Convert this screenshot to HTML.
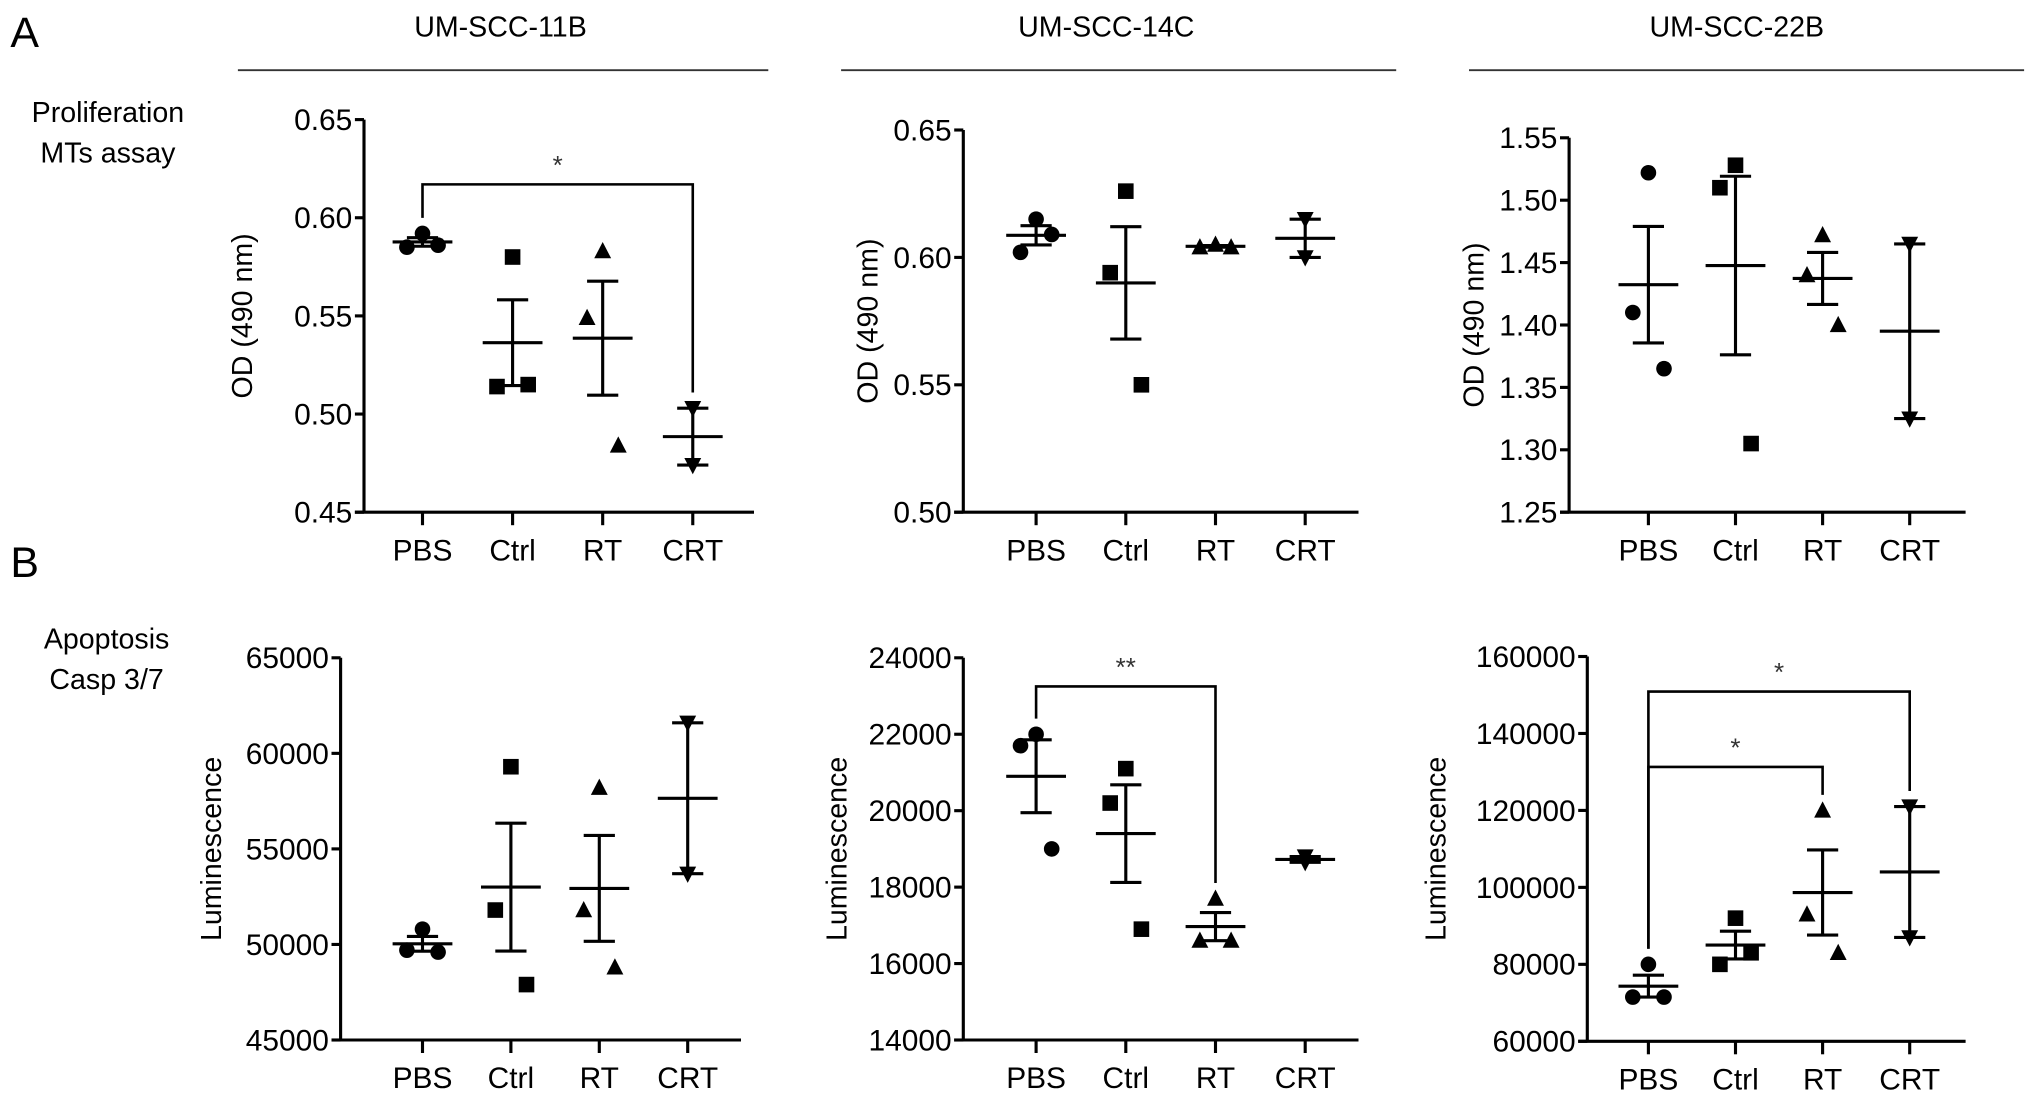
<!DOCTYPE html>
<html><head><meta charset="utf-8"><style>
html,body{margin:0;padding:0;background:#fff;}
svg{display:block;font-family:"Liberation Sans",Arial,sans-serif;}
</style></head><body>
<svg id="fig" width="2032" height="1099" viewBox="0 0 2032 1099" xmlns="http://www.w3.org/2000/svg">
<g id="root" transform="scale(1.3)">
<text x="8" y="36" font-size="33">A</text>
<text x="8" y="444" font-size="33">B</text>
<text x="83" y="94" font-size="22" text-anchor="middle">Proliferation</text>
<text x="83" y="125" font-size="22" text-anchor="middle">MTs assay</text>
<text x="82" y="499" font-size="22" text-anchor="middle">Apoptosis</text>
<text x="82" y="530" font-size="22" text-anchor="middle">Casp 3/7</text>
<text x="385" y="28" font-size="22" text-anchor="middle">UM-SCC-11B</text>
<text x="851" y="28" font-size="22" text-anchor="middle">UM-SCC-14C</text>
<text x="1336" y="28" font-size="22" text-anchor="middle">UM-SCC-22B</text>
<line x1="183" y1="54" x2="591" y2="54" stroke="#333" stroke-width="1.5"/>
<line x1="647" y1="54" x2="1074" y2="54" stroke="#333" stroke-width="1.5"/>
<line x1="1130" y1="54" x2="1557" y2="54" stroke="#333" stroke-width="1.5"/>
</g>
</svg>
<script>
const categories = ["PBS","Ctrl","RT","CRT"];
const a1Values = [[0.592,0.585,0.586],[0.580,0.514,0.515],[0.583,0.549,0.484],[0.503,0.474]];
const a2Values = [[0.615,0.602,0.609],[0.626,0.594,0.550],[0.605,0.604,0.604],[0.615,0.600]];
const a3Values = [[1.522,1.410,1.365],[1.528,1.510,1.305],[1.472,1.440,1.400],[1.465,1.325]];
const b1Values = [[50800,49700,49600],[59300,51800,47900],[58200,51800,48800],[61600,53700]];
const b2Values = [[22000,21700,19000],[21100,20200,16900],[17700,16600,16600],[18800,18650]];
const b3Values = [[80000,71500,71500],[92000,80000,83000],[120000,93000,83000],[121000,87000]];
const a1Ticks = [0.45,0.50,0.55,0.60,0.65];
const a2Ticks = [0.50,0.55,0.60,0.65];
const a3Ticks = [1.25,1.30,1.35,1.40,1.45,1.50,1.55];
const b1Ticks = [45000,50000,55000,60000,65000];
const b2Ticks = [14000,16000,18000,20000,22000,24000];
const b3Ticks = [60000,80000,100000,120000,140000,160000];
const a1Sig = [[0,3,0.617,"*"]];
const b2Sig = [[0,2,23250,"**"]];
const b3Sig = [[0,2,131300,"*"],[0,3,150900,"*"]];
const markers = ["circle","square","triangle","down"];

const NS="http://www.w3.org/2000/svg";
const root=document.getElementById('root');
function mk(tag,attrs,parent){const e=document.createElementNS(NS,tag);for(const k in attrs)e.setAttribute(k,attrs[k]);(parent||root).appendChild(e);return e;}

const panels=[
 {id:"a-11b",vals:a1Values,ticks:a1Ticks,dec:2,ax:280,top:92,bot:394,x0:325,step:69.3,xend:580,ylab:"OD (490 nm)",labx:194,sig:a1Sig},
 {id:"a-14c",vals:a2Values,ticks:a2Ticks,dec:2,ax:741,top:100,bot:394,x0:797,step:69,xend:1045,ylab:"OD (490 nm)",labx:675,sig:[]},
 {id:"a-22b",vals:a3Values,ticks:a3Ticks,dec:2,ax:1207,top:106,bot:394,x0:1268,step:67,xend:1512,ylab:"OD (490 nm)",labx:1141,sig:[]},
 {id:"b-11b",vals:b1Values,ticks:b1Ticks,dec:0,ax:262,top:506,bot:800,x0:325,step:68,xend:570,ylab:"Luminescence",labx:170,sig:[]},
 {id:"b-14c",vals:b2Values,ticks:b2Ticks,dec:0,ax:741,top:506,bot:800,x0:797,step:69,xend:1045,ylab:"Luminescence",labx:651,sig:b2Sig},
 {id:"b-22b",vals:b3Values,ticks:b3Ticks,dec:0,ax:1221,top:505,bot:801,x0:1268,step:67,xend:1512,ylab:"Luminescence",labx:1112,sig:b3Sig}
];
const SW=2.4;
panels.forEach(p=>{
 const g=mk('g',{});
 
 
 const lo=p.ticks[0],hi=p.ticks[p.ticks.length-1];
 const y=v=>p.bot-(v-lo)/(hi-lo)*(p.bot-p.top);
 const x=i=>p.x0+i*p.step;
 const ya=mk('line',{x1:p.ax,y1:p.top,x2:p.ax,y2:p.bot,stroke:"#000","stroke-width":SW},g);
 
 
 const xa=mk('line',{x1:p.ax-7,y1:p.bot,x2:p.xend,y2:p.bot,stroke:"#000","stroke-width":SW},g);
 
 
 p.ticks.forEach(t=>{
  mk('line',{x1:p.ax-7,y1:y(t),x2:p.ax,y2:y(t),stroke:"#000","stroke-width":SW},g);
  const tl=mk('text',{x:p.ax-9,y:y(t)+8,"font-size":23,"text-anchor":"end"},g);
  tl.textContent=t.toFixed(p.dec);
  
  
 });
 const yl=mk('text',{x:p.labx,y:(p.top+p.bot)/2,"font-size":22,"text-anchor":"middle",transform:`rotate(-90 ${p.labx} ${(p.top+p.bot)/2})`},g);
 yl.textContent=p.ylab;
 
 
 categories.forEach((c,i)=>{
  mk('line',{x1:x(i),y1:p.bot,x2:x(i),y2:p.bot+10,stroke:"#000","stroke-width":SW},g);
  const cl=mk('text',{x:x(i),y:p.bot+37,"font-size":23,"text-anchor":"middle"},g);
  cl.textContent=c;
  
  
  const vs=p.vals[i];
  const n=vs.length;
  const mean=vs.reduce((a,b)=>a+b,0)/n;
  const sd=Math.sqrt(vs.reduce((a,b)=>a+(b-mean)*(b-mean),0)/(n-1));
  const sem=sd/Math.sqrt(n);
  const cx=x(i);
  const offs=n===3?[0,-12,12]:[0,0];
  const pg=mk('g',{},g);
  
  
  vs.forEach((v,k)=>{
   const px=cx+offs[k],py=y(v);
   let m;
   if(markers[i]==="circle") m=mk('circle',{cx:px,cy:py,r:6,fill:"#000"},pg);
   else if(markers[i]==="square") m=mk('rect',{x:px-6,y:py-6,width:12,height:12,fill:"#000"},pg);
   else if(markers[i]==="triangle") m=mk('polygon',{points:`${px},${py-7} ${px-6.5},${py+5.5} ${px+6.5},${py+5.5}`,fill:"#000"},pg);
   else m=mk('polygon',{points:`${px},${py+7} ${px-6.5},${py-5.5} ${px+6.5},${py-5.5}`,fill:"#000"},pg);
   
   
  });
  const ml=mk('line',{x1:cx-23,y1:y(mean),x2:cx+23,y2:y(mean),stroke:"#000","stroke-width":SW},pg);
  
  
  const el=mk('line',{x1:cx,y1:y(mean+sem),x2:cx,y2:y(mean-sem),stroke:"#000","stroke-width":SW},pg);
  
  
  [mean+sem,mean-sem].forEach(v=>mk('line',{x1:cx-12,y1:y(v),x2:cx+12,y2:y(v),stroke:"#000","stroke-width":SW},pg));
 });
 p.sig.forEach(s=>{
  const [a,b,v,lab]=s;
  const top=(vals)=>Math.max(...vals);
  const by=y(v);
  const la=Math.min(p.bot-5,y(top(p.vals[a]))-12), lb=Math.min(p.bot-5,y(top(p.vals[b]))-12);
  const br=mk('path',{d:`M${x(a)},${la} L${x(a)},${by} L${x(b)},${by} L${x(b)},${lb}`,fill:"none",stroke:"#000","stroke-width":2},g);
  
  
  const st=mk('text',{x:(x(a)+x(b))/2,y:by-8,"font-size":20,"text-anchor":"middle",fill:"#333"},g);
  st.textContent=lab;
  
  
 });
});
</script>
</body></html>
